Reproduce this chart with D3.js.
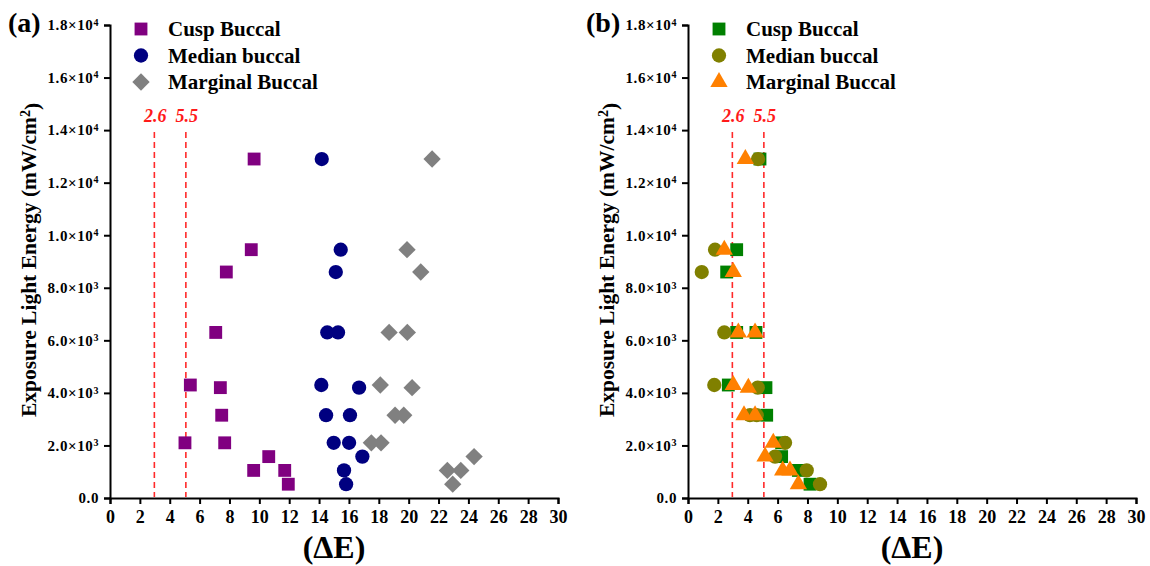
<!DOCTYPE html>
<html>
<head>
<meta charset="utf-8">
<script src="https://cdn.jsdelivr.net/npm/d3@7"></script>
<style>
  body { margin: 0; background: #fff; }
  svg text { font-family: "Liberation Serif", "Times New Roman", serif; font-weight: bold; }
</style>
</head>
<body>
<svg id="chart"></svg>
<script>
// Legend names
let seriesNames = ['Cusp Buccal', 'Median buccal', 'Marginal Buccal'];

// Panel (a) - energy (mW/cm2) and delta E readings
let cuspAEnergy = [12900, 9450, 8600, 6300, 4300, 4200, 3150, 2100, 2100, 1575, 1050, 1050, 525];
let cuspADeltaE = [9.65, 9.46, 7.79, 7.08, 5.38, 7.39, 7.48, 7.68, 5.02, 10.63, 9.62, 11.7, 11.94];
let medianAEnergy = [12900, 9450, 8600, 6300, 6300, 4300, 4200, 3150, 3150, 2100, 2100, 1575, 1050, 525];
let medianADeltaE = [14.18, 15.45, 15.12, 14.55, 15.27, 14.15, 16.68, 14.47, 16.07, 14.98, 16.01, 16.9, 15.67, 15.81];
let marginalAEnergy = [12900, 9450, 8600, 6300, 6300, 4300, 4200, 3150, 3150, 2100, 2100, 1575, 1050, 1050, 525];
let marginalADeltaE = [21.57, 19.89, 20.81, 18.69, 19.91, 18.1, 20.23, 19.09, 19.67, 17.5, 18.15, 24.38, 22.59, 23.49, 22.95];

// Panel (b)
let cuspBEnergy = [12900, 9450, 8600, 6300, 6300, 4300, 4200, 3150, 2100, 1575, 1050, 525];
let cuspBDeltaE = [4.82, 3.26, 2.59, 3.26, 4.55, 2.7, 5.22, 5.27, 6.27, 6.27, 7.39, 8.17];
let medianBEnergy = [12900, 9450, 8600, 6300, 4300, 4200, 3150, 3150, 2100, 1575, 1050, 525];
let medianBDeltaE = [4.69, 1.81, 0.92, 2.43, 1.76, 4.67, 4.15, 4.6, 6.5, 5.83, 7.95, 8.84];
let marginalBEnergy = [12900, 9450, 8600, 6300, 6300, 4300, 4200, 3150, 3150, 2100, 1575, 1050, 1050, 525];
let marginalBDeltaE = [3.84, 2.43, 3.03, 3.37, 4.49, 3.03, 4.04, 3.75, 4.49, 5.71, 5.16, 6.34, 6.83, 7.39];

// Reference lines (drawn position and their labels)
let refLinePos = [2.97, 5.08];
let refLineLabels = ['2.6', '5.5'];

// Tick labels
let xTickValues = d3.range(0, 31, 2);
let yTickValues = [0, 2000, 4000, 6000, 8000, 10000, 12000, 14000, 16000, 18000];
let yTickLabels = ['0.0', '2.0×10', '4.0×10', '6.0×10', '8.0×10', '1.0×10', '1.2×10', '1.4×10', '1.6×10', '1.8×10'];
let yTickExps = ['', '3', '3', '3', '3', '4', '4', '4', '4', '4'];

// SVG size
let width = 1150, height = 566;
let svg = d3.select('#chart').attr('width', width).attr('height', height);

function zip(xs, ys) {
    return xs.map((x, i) => [x, ys[i]]);
}

// one panel
function drawPanel(left, label, series) {
    let xScale = d3.scaleLinear().domain([0, 30]).range([left, left + 448]);
    let yScale = d3.scaleLinear().domain([0, 18000]).range([498, 25]);
    let g = svg.append('g');

    // x axis
    let xAxis = g.append('g')
        .attr('transform', 'translate(0, 498)')
        .call(d3.axisBottom(xScale).tickValues(xTickValues).tickSizeOuter(0).tickSize(6).tickPadding(6));
    xAxis.attr('font-family', null).attr('font-size', null);
    xAxis.selectAll('text').style('font-size', '18px').attr('fill', '#000');

    // y axis
    let yAxis = g.append('g')
        .attr('transform', `translate(${left}, 0)`)
        .call(d3.axisLeft(yScale).tickValues(yTickValues).tickSizeOuter(0).tickSize(6).tickPadding(5)
            .tickFormat((d, i) => yTickLabels[i]));
    yAxis.attr('font-family', null).attr('font-size', null);
    yAxis.selectAll('text').style('font-size', '15px').style('letter-spacing', '0.6px').attr('fill', '#000')
        .each(function (d, i) {
            if (yTickExps[i]) {
                d3.select(this).append('tspan')
                    .attr('dy', '-0.45em')
                    .style('font-size', '10px')
                    .text(yTickExps[i]);
            }
        });
    g.selectAll('.domain, .tick line').attr('stroke', '#000').attr('stroke-width', 2);

    // axis titles
    g.append('text')
        .attr('x', left + 224).attr('y', 558)
        .attr('text-anchor', 'middle')
        .style('font-size', '32px')
        .text('(ΔE)');
    let yt = g.append('text')
        .attr('transform', `translate(${left - 74}, 260) rotate(-90)`)
        .attr('text-anchor', 'middle')
        .style('font-size', '21.5px');
    yt.append('tspan').text('Exposure Light Energy (mW/cm');
    yt.append('tspan').attr('dy', '-0.45em').style('font-size', '14px').text('2');
    yt.append('tspan').attr('dy', '0.45em').text(')');

    // panel label
    g.append('text')
        .attr('x', left - 102).attr('y', 32)
        .style('font-size', '28px')
        .text(label);

    // reference lines
    g.selectAll('.ref').data(refLinePos).enter().append('line')
        .attr('x1', d => xScale(d)).attr('x2', d => xScale(d))
        .attr('y1', 132).attr('y2', 497)
        .attr('stroke', '#ff2a2a').attr('stroke-width', 1.6)
        .attr('stroke-dasharray', '6,4');
    g.selectAll('.reflabel').data(refLinePos).enter().append('text')
        .attr('x', d => xScale(d) + 1).attr('y', 122)
        .attr('text-anchor', 'middle')
        .attr('fill', '#ff1a1a')
        .style('font-size', '18px').style('font-style', 'italic')
        .text((d, i) => refLineLabels[i]);

    // points
    series.forEach(s => {
        g.selectAll(null).data(s.points).enter().append('path')
            .attr('d', d3.symbol().type(s.shape).size(s.size))
            .attr('transform', d => `translate(${xScale(d[0])}, ${yScale(d[1])}) rotate(${s.rotate})`)
            .attr('fill', s.color);
    });

    // legend
    series.forEach((s, i) => {
        let ly = 29 + i * 26.5;
        g.append('path')
            .attr('d', d3.symbol().type(s.shape).size(s.size))
            .attr('transform', `translate(${left + 31}, ${ly}) rotate(${s.rotate})`)
            .attr('fill', s.color);
        g.append('text')
            .attr('x', left + 58).attr('y', ly + 7)
            .style('font-size', '21px')
            .text(seriesNames[i]);
    });
}

drawPanel(110, '(a)', [
    { points: zip(cuspADeltaE, cuspAEnergy), shape: d3.symbolSquare, size: 165, rotate: 0, color: '#800080' },
    { points: zip(medianADeltaE, medianAEnergy), shape: d3.symbolCircle, size: 160, rotate: 0, color: '#000080' },
    { points: zip(marginalADeltaE, marginalAEnergy), shape: d3.symbolSquare, size: 150, rotate: 45, color: '#808080' }
]);

drawPanel(688, '(b)', [
    { points: zip(cuspBDeltaE, cuspBEnergy), shape: d3.symbolSquare, size: 165, rotate: 0, color: '#008000' },
    { points: zip(medianBDeltaE, medianBEnergy), shape: d3.symbolCircle, size: 160, rotate: 0, color: '#808000' },
    { points: zip(marginalBDeltaE, marginalBEnergy), shape: d3.symbolTriangle, size: 130, rotate: 0, color: '#ff8000' }
]);
</script>
</body>
</html>
